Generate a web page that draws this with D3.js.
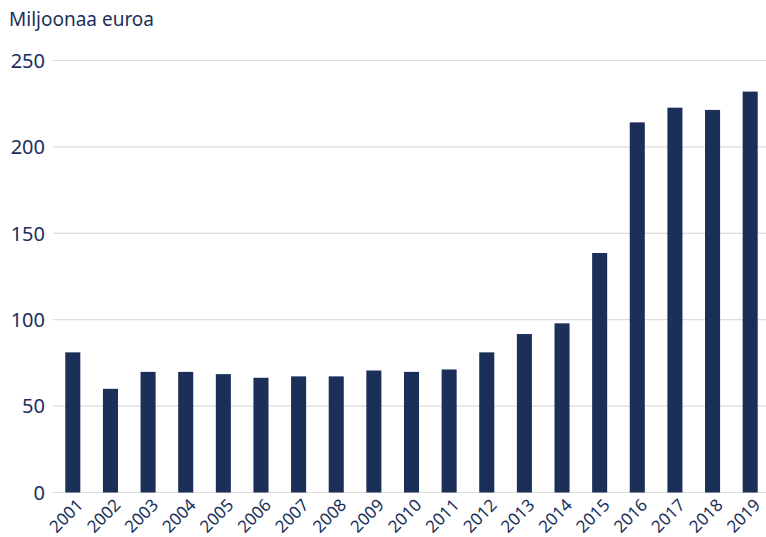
<!DOCTYPE html>
<html>
<head>
<meta charset="utf-8">
<script src="https://cdn.jsdelivr.net/npm/d3@7"></script>
<style>
  body { margin: 0; background: #fff; }
  svg text { font-family: "Noto Sans", "Open Sans", sans-serif; fill: #1a2f5a; }
</style>
</head>
<body>
<div id="chart"></div>
<script>
// vuodet ja arvot (milj. euroa)
var years = ["2001","2002","2003","2004","2005","2006","2007","2008","2009","2010",
             "2011","2012","2013","2014","2015","2016","2017","2018","2019"];
var values = [81.1, 60.0, 69.8, 69.8, 68.5, 66.4, 67.2, 67.2, 70.6, 69.8,
              71.2, 81.1, 91.7, 97.9, 138.6, 214.2, 222.7, 221.4, 232.0];
var yTicks = [0, 50, 100, 150, 200, 250];

var W = 766, H = 537;

var svg = d3.select("#chart").append("svg")
    .attr("width", W)
    .attr("height", H);

var x = d3.scaleBand().domain(years).range([54, 769]).paddingInner(0.6).paddingOuter(0.3);
var y = d3.scaleLinear().domain([0, 250]).range([492.5, 60.5]);

// gridlines
svg.append("g")
  .selectAll("line")
  .data(yTicks)
  .enter().append("line")
    .attr("x1", 53)
    .attr("x2", 766)
    .attr("y1", function(d) { return y(d); })
    .attr("y2", function(d) { return y(d); })
    .attr("stroke", "#dcdcdc")
    .attr("stroke-width", 1.2);

// y axis labels
svg.append("g")
  .selectAll("text")
  .data(yTicks)
  .enter().append("text")
    .attr("x", 45)
    .attr("y", function(d) { return y(d); })
    .attr("dy", "0.36em")
    .attr("text-anchor", "end")
    .style("font-size", "20px")
    .text(function(d) { return d; });

// bars
svg.append("g")
  .selectAll("rect")
  .data(values)
  .enter().append("rect")
    .attr("x", function(d, i) { return x(years[i]); })
    .attr("width", x.bandwidth())
    .attr("y", function(d) { return y(d); })
    .attr("height", function(d) { return y(0) - y(d); })
    .attr("fill", "#1b2f58");

// x axis labels
svg.append("g")
  .selectAll("text")
  .data(years)
  .enter().append("text")
    .attr("transform", function(d) {
      return "translate(" + (x(d) + x.bandwidth() / 2 + 7) + ",502) rotate(-45)";
    })
    .attr("text-anchor", "end")
    .attr("dy", "0.35em")
    .style("font-size", "17px")
    .text(function(d) { return d; });

// title
svg.append("text")
  .attr("x", 9)
  .attr("y", 26)
  .style("font-size", "19px")
  .text("Miljoonaa euroa");
</script>
</body>
</html>
